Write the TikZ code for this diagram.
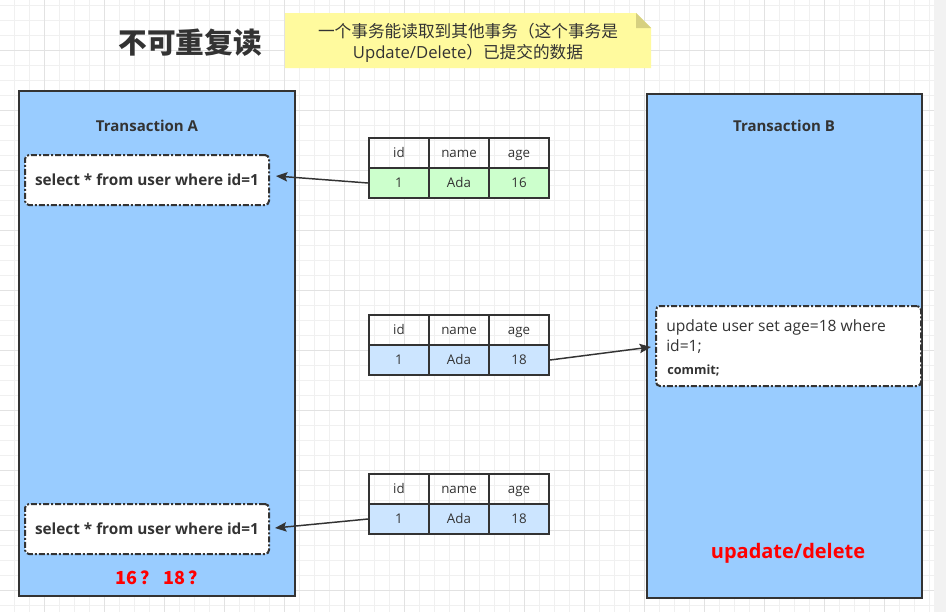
\documentclass[tikz,border=0pt]{standalone}
\usepackage{fontspec}
\setmainfont{Open Sans}
\newfontfamily\cjk{Noto Sans CJK SC}
\usetikzlibrary{arrows.meta}
\definecolor{boxblue}{HTML}{99CCFF}
\definecolor{edge}{HTML}{333333}
\definecolor{notey}{HTML}{FFFA9E}
\definecolor{notefold}{HTML}{D6D080}
\definecolor{rowgreen}{HTML}{CCFFCC}
\definecolor{rowblue}{HTML}{CCE5FF}
\definecolor{gridminor}{HTML}{F0F0F0}
\definecolor{gridmajor}{HTML}{E2E2E2}
\definecolor{strip}{HTML}{F2F2F2}
\tikzset{
  txbox/.style={draw=edge, line width=1.5pt, fill=boxblue, rectangle, inner sep=0pt, anchor=north west},
  txtitle/.style={text=edge, font=\bfseries\fontsize{11.25}{13}\selectfont},
  sqlbox/.style={draw=edge, line width=1.5pt, fill=white, rectangle, rounded corners=3pt,
    dash pattern=on 4.5pt off 1.5pt on 1.5pt off 1.5pt, inner sep=0pt},
  sqltext/.style={text=edge, font=\bfseries\fontsize{11.5}{13}\selectfont},
  cell/.style={draw=edge, line width=1.5pt, rectangle, minimum width=45pt, minimum height=22.5pt,
    inner sep=0pt, text=edge, text height=8pt, text depth=1.5pt, font=\fontsize{10}{12}\selectfont},
  conn/.style={draw=edge, line width=1.1pt, -{Stealth[length=8.5pt,width=7pt,inset=1.5pt]}},
  redtext/.style={text=red, font=\bfseries\fontsize{13}{15}\selectfont},
}
\begin{document}
\begin{tikzpicture}[x=0.75pt,y=-0.75pt]
\useasboundingbox (0,0) rectangle (946,612);
% background grid
\fill[white] (0,0) rectangle (946,612);
\fill[strip] (934,0) rectangle (946,612);
\begin{scope}
\clip (0,0) rectangle (934,612);
\foreach \i in {0,...,62} {\draw[gridminor, line width=0.75pt] ({14+15*\i},0) -- ({14+15*\i},612);}
\foreach \i in {0,...,41} {\draw[gridminor, line width=0.75pt] (0,{5+15*\i}) -- (934,{5+15*\i});}
\foreach \i in {0,...,15} {\draw[gridmajor, line width=0.75pt] ({44+60*\i},0) -- ({44+60*\i},612);}
\foreach \i in {0,...,10} {\draw[gridmajor, line width=0.75pt] (0,{50+60*\i}) -- (934,{50+60*\i});}
\end{scope}

% title
\node[text=edge, font=\cjk\bfseries\fontsize{21.5}{25}\selectfont] (title) at (190,43) {不可重复读};

% note
\fill[notey] (285,13) -- (636,13) -- (651,28) -- (651,68) -- (285,68) -- cycle;
\fill[notefold] (636,13) -- (651,28) -- (636,28) -- cycle;
\node[text=edge, font=\fontsize{12.5}{16}\selectfont, align=center] (note) at (468,43)
  {{\cjk 一个事务能读取到其他事务（这个事务是}\\Update/Delete{\cjk ）已提交的数据}};

% Transaction A
\node[txbox, minimum width=207pt, minimum height=378.75pt] (txA) at (18,90) {};
\node[txtitle] (titleA) at (147,126) {Transaction A};
\node[sqlbox, minimum width=183pt, minimum height=37.5pt] (selA) at (147,180) {};
\node[sqltext] (selAt) at (selA) {select * from user where id=1};
\node[sqlbox, minimum width=183pt, minimum height=37.5pt] (selB) at (147,529) {};
\node[sqltext] (selBt) at (selB) {select * from user where id=1};
\node[redtext, font=\cjk\bfseries\fontsize{13.5}{15}\selectfont] (q) at (161,578) {16\kern2.5pt？\kern4pt18\kern2.5pt？};

% Transaction B
\node[txbox, minimum width=206.25pt, minimum height=378pt] (txB) at (646,93) {};
\node[txtitle] (titleB) at (784,126) {Transaction B};
\node[sqlbox, minimum width=198.75pt, minimum height=60pt] (upd) at (788.5,346) {};
\node[text=edge, anchor=north west, align=left, inner sep=0pt, font=\fontsize{11.7}{15}\selectfont] (updt) at (666,319)
  {update user set age=18 where\\id=1;};
\node[text=edge, anchor=west, inner sep=0pt, font=\bfseries\fontsize{9.5}{11}\selectfont] (commit) at (667,370) {commit;};
\node[redtext, font=\bfseries\fontsize{15}{17}\selectfont] (ud) at (788,553) {upadate/delete};

% table 1
\node[cell] (a11) at (399,153) {id};
\node[cell] (a12) at (459,153) {name};
\node[cell] (a13) at (519,153) {age};
\node[cell, fill=rowgreen] (a21) at (399,183) {1};
\node[cell, fill=rowgreen] (a22) at (459,183) {Ada};
\node[cell, fill=rowgreen] (a23) at (519,183) {16};
% table 2
\node[cell] (b11) at (399,330) {id};
\node[cell] (b12) at (459,330) {name};
\node[cell] (b13) at (519,330) {age};
\node[cell, fill=rowblue] (b21) at (399,360) {1};
\node[cell, fill=rowblue] (b22) at (459,360) {Ada};
\node[cell, fill=rowblue] (b23) at (519,360) {18};
% table 3
\node[cell] (c11) at (399,489) {id};
\node[cell] (c12) at (459,489) {name};
\node[cell] (c13) at (519,489) {age};
\node[cell, fill=rowblue] (c21) at (399,519) {1};
\node[cell, fill=rowblue] (c22) at (459,519) {Ada};
\node[cell, fill=rowblue] (c23) at (519,519) {18};

% connectors
\draw[conn] (a21.west) -- ([shift={(6,-4)}]selA.east);
\draw[conn] (b23.east) -- ([shift={(-4,1)}]upd.west);
\draw[conn] (c21.west) -- ([shift={(5,-1)}]selB.east);
\end{tikzpicture}
\end{document}
